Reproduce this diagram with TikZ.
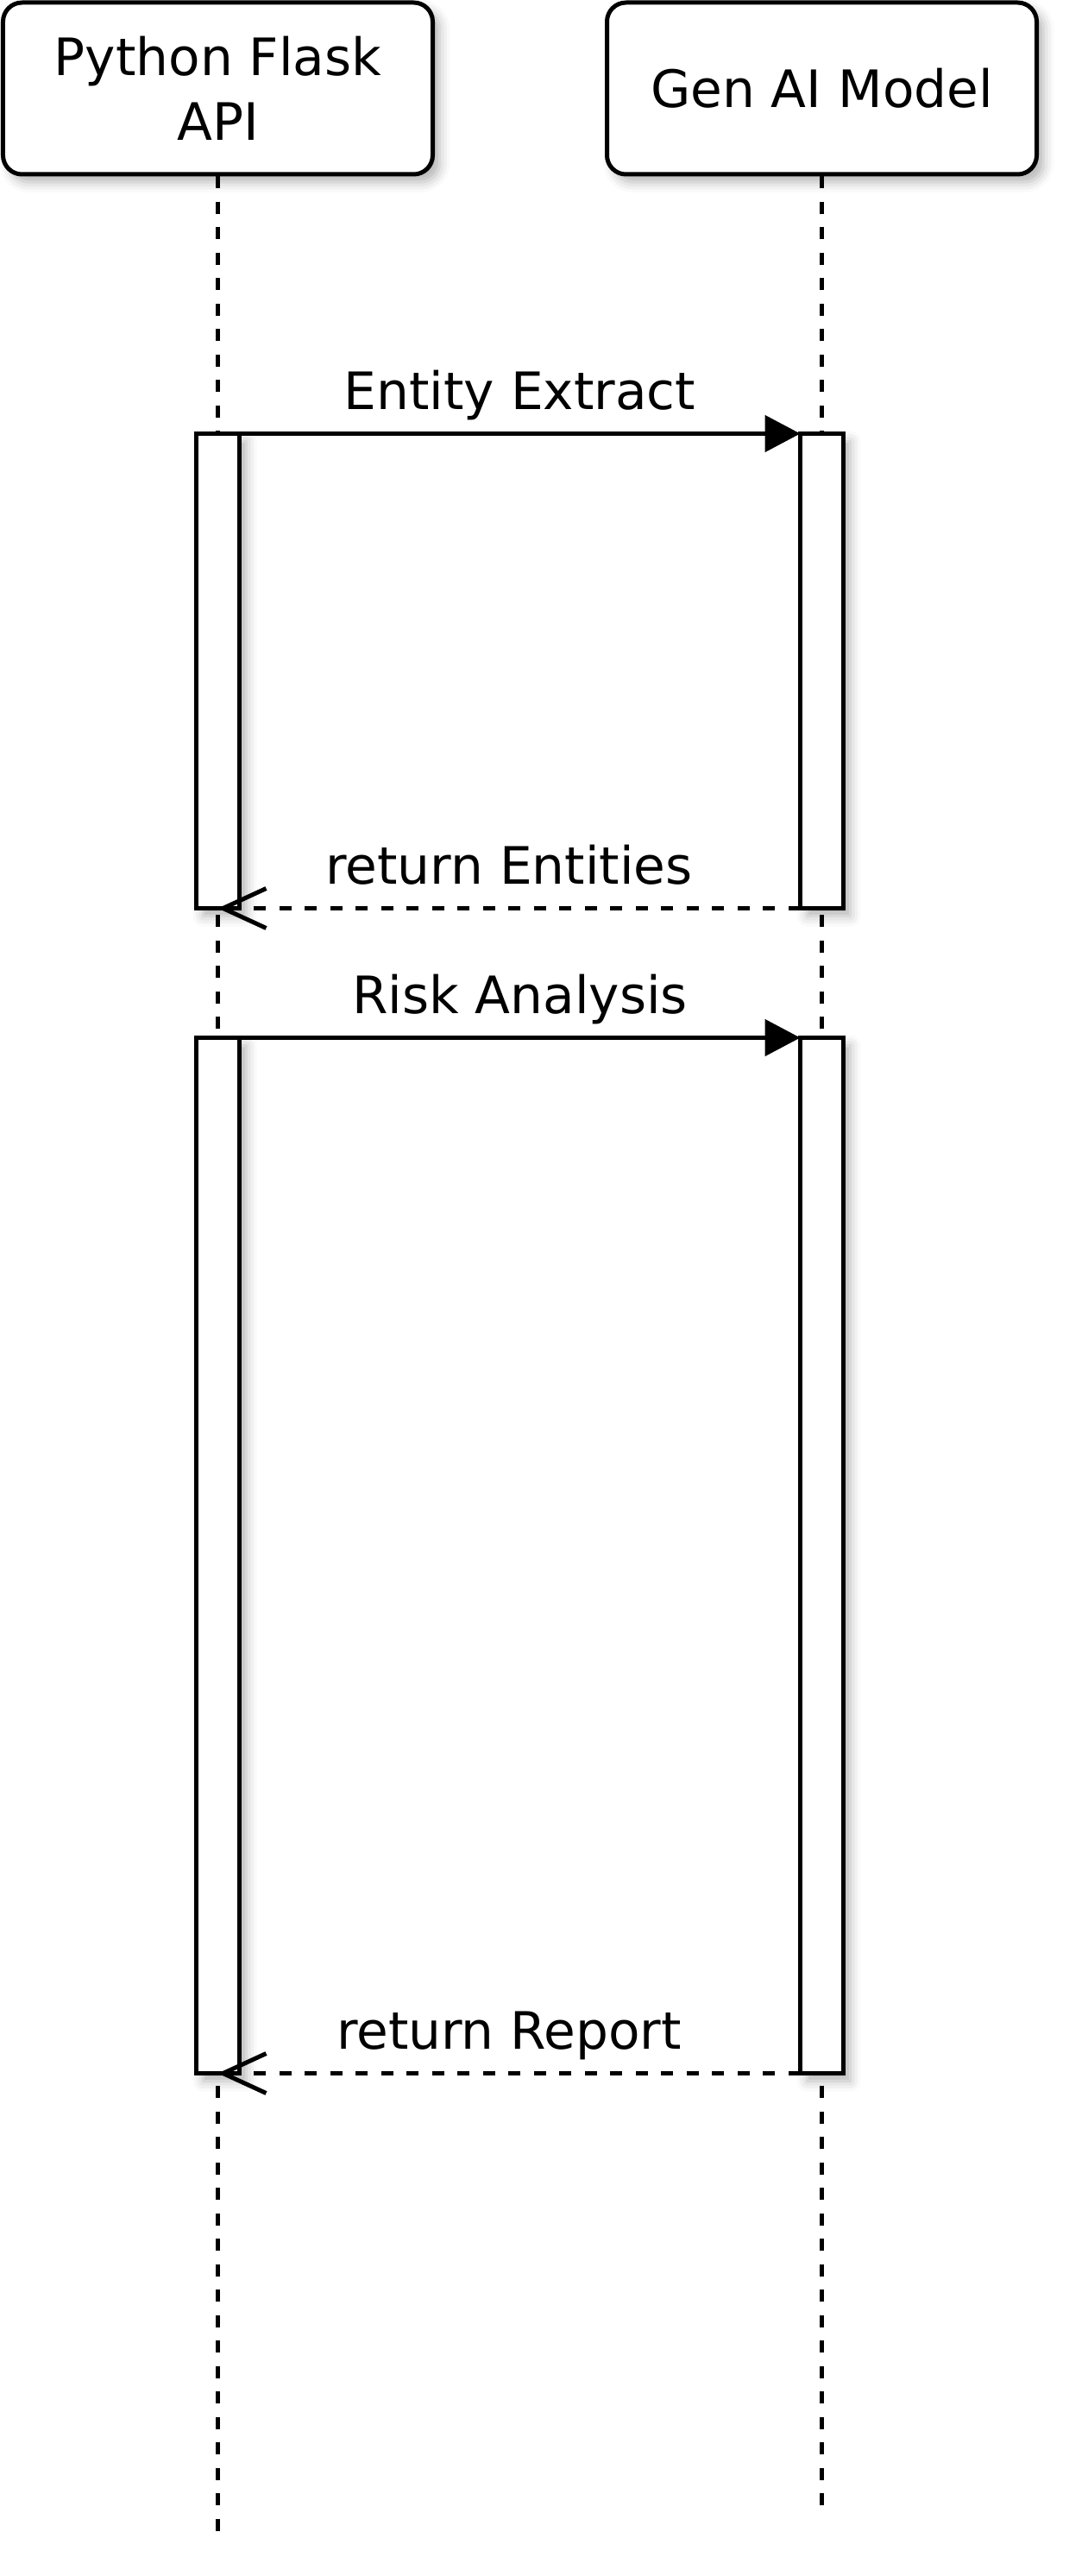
\documentclass[tikz,border=0pt]{standalone}
\usepackage{fontspec}
\setmainfont{DejaVu Sans}
\usepackage{tikz}
\usetikzlibrary{positioning,calc,arrows.meta,shadows.blur}

\begin{document}
\begin{tikzpicture}[line width=0.05cm, font=\fontsize{17pt}{21.3pt}\selectfont,
    actor/.style={draw, fill=white, rounded corners=0.22cm, minimum width=4.98cm, minimum height=1.99cm, align=center,
        blur shadow={shadow xshift=0.08cm, shadow yshift=-0.09cm, shadow blur radius=0.12cm, shadow opacity=30}},
    act/.style={draw, fill=white, minimum width=0.5cm, inner sep=0pt, outer sep=0pt,
        blur shadow={shadow xshift=0.08cm, shadow yshift=-0.09cm, shadow blur radius=0.12cm, shadow opacity=30}},
    lifeline/.style={dash pattern=on 0.14cm off 0.155cm},
    call/.style={-{Triangle[length=0.41cm,width=0.42cm]}},
    ret/.style={dash pattern=on 0.14cm off 0.155cm, -{Straight Barb[length=0.5cm,width=0.46cm]}},
    msg/.style={anchor=base, yshift=0.28cm, inner sep=0pt}]
    \useasboundingbox (0,0) rectangle (12.6,-29.85);
    \node [actor] (flask) at (2.525,-1.025) {Python Flask\\API}; % Left actor
    \node [actor] (model) at (9.525,-1.025) {Gen AI Model}; % Right actor
    \coordinate (flaskEnd) at (2.525,-29.35);
    \coordinate (modelEnd) at (9.525,-29.05);
    \draw [lifeline] (flask.south) -- (flaskEnd); % Lifelines
    \draw [lifeline] (model.south) -- (modelEnd);
    \node [act, minimum height=5.5cm] (flaskA) at (2.525,-7.775) {}; % First activation
    \node [act, minimum height=5.5cm] (modelA) at (9.525,-7.775) {};
    \node [act, minimum height=12cm] (flaskB) at (2.525,-18.025) {}; % Second activation
    \node [act, minimum height=12cm] (modelB) at (9.525,-18.025) {};
    \draw [call] (flaskA.north east) -- (modelA.north west) node [msg, midway] {Entity Extract};
    \draw [ret] (modelA.south west) -- (flaskA.south) node [msg, midway] {return Entities};
    \draw [call] (flaskB.north east) -- (modelB.north west) node [msg, midway] {Risk Analysis};
    \draw [ret] (modelB.south west) -- (flaskB.south) node [msg, midway] {return Report};
\end{tikzpicture}
\end{document}
